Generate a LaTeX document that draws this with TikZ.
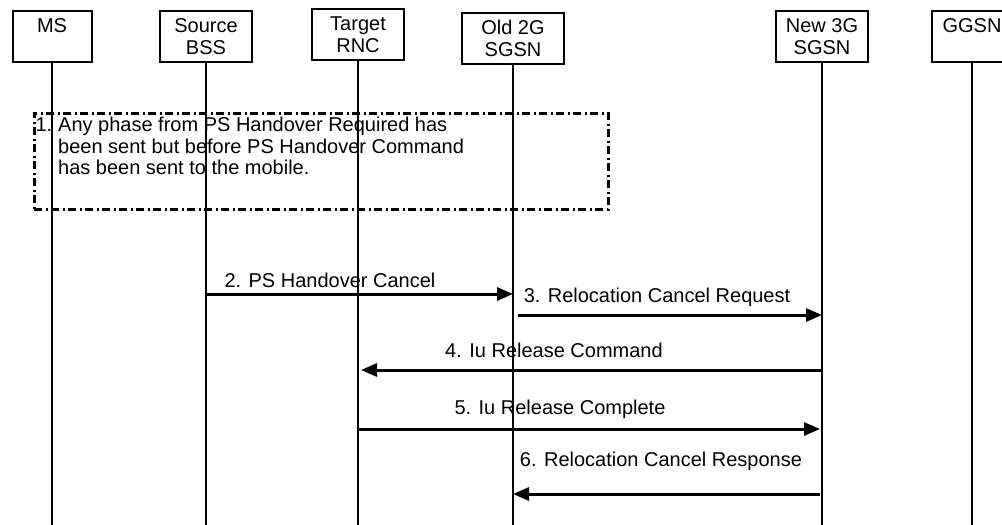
\documentclass[tikz,border=0pt]{standalone}
\usepackage{fontspec}
\setmainfont{Liberation Sans}
\usetikzlibrary{arrows.meta}
\tikzset{
	% ---- default
	every path/.style={line width=2pt},
	every node/.style={font=\fontsize{20}{21.5}\selectfont},
	% ---- custom
	entity/.style={draw, line width=2pt, align=center, anchor=north, minimum height=51pt, inner sep=3pt},
	lifeline/.style={line width=2pt},
	phase box/.style={draw, line width=2.5pt, dash pattern=on 8pt off 3.5pt on 2pt off 3.5pt, anchor=north west, inner sep=0pt},
	message/.style={line width=3pt, -{Triangle[length=16pt, width=13pt]}},
	message label/.style={anchor=base, inner sep=0pt},
}

\begin{document}
\begin{tikzpicture}[x=1pt, y=-1pt]

	\useasboundingbox (0,0) rectangle (1002,525);

% entities %{{{2

	\node[entity, minimum width=79pt]  (ms)   at (52,10)  {MS\\\mbox{}};
	\node[entity, minimum width=92pt]  (bss)  at (206,10) {Source\\BSS};
	\node[entity, minimum width=92pt]  (rnc)  at (358,8)  {Target\\RNC};
	\node[entity, minimum width=102pt] (old)  at (513,12) {Old 2G\\SGSN};
	\node[entity, minimum width=92pt]  (new)  at (822,10) {New 3G\\SGSN};
	\node[entity, minimum width=80pt]  (ggsn) at (972,10) {GGSN\\\mbox{}};

% lifelines %{{{2

	\draw[lifeline] (ms.south)   -- (ms |- 0,525);
	\draw[lifeline] (bss.south)  -- (bss |- 0,525);
	\draw[lifeline] (rnc.south)  -- (rnc |- 0,525);
	\draw[lifeline] (old.south)  -- (old |- 0,525);
	\draw[lifeline] (new.south)  -- (new |- 0,525);
	\draw[lifeline] (ggsn.south) -- (ggsn |- 0,525);

% phase box %{{{2

	\node[phase box, minimum width=574pt, minimum height=96pt] (phase) at (33,112) {};
	\node[anchor=north west, align=left, inner sep=0pt] (phase text) at (34.5,116.5)
		{1.\hspace{6pt}Any phase from PS Handover Required has\\
		 \phantom{1.}\hspace{6pt}been sent but before PS Handover Command\\
		 \phantom{1.}\hspace{6pt}has been sent to the mobile.};

% messages %{{{2

	\draw[message] (bss |- 0,294) -- (old |- 0,294);
	\draw[message, shorten <=5pt] (old |- 0,315) -- (new |- 0,315);
	\draw[message, shorten >=3pt] (new |- 0,370) -- (rnc |- 0,370);
	\draw[message, shorten >=2pt] (rnc |- 0,429) -- (new |- 0,429);
	\draw[message, shorten <=2pt] (new |- 0,494) -- (old |- 0,494);

% messages labels %{{{2

	\node[message label] (cancel)    at (330,287) {2. PS Handover Cancel};
	\node[message label] (reloc req) at (657,302) {3. Relocation Cancel Request};
	\node[message label] (iu cmd)    at (554,357) {4. Iu Release Command};
	\node[message label] (iu cmp)    at (560,414) {5. Iu Release Complete};
	\node[message label] (reloc rsp) at (661,466) {6. Relocation Cancel Response};

% closing %{{{2

\end{tikzpicture}
\end{document}
